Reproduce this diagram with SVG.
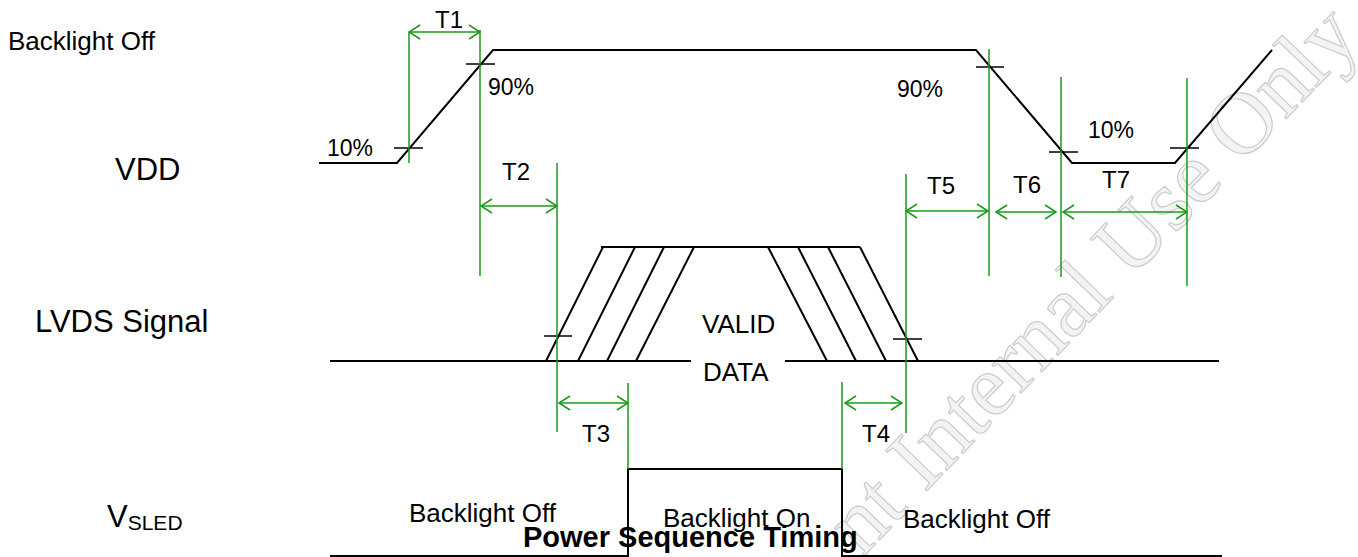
<svg xmlns="http://www.w3.org/2000/svg" width="1358" height="557" viewBox="0 0 1358 557">
<style>
.sig{fill:none;stroke:#000;stroke-width:2}
.tick{fill:none;stroke:#000;stroke-width:1.5}
.dim{fill:none;stroke:#1a9a1a;stroke-width:1.5}
.arr{fill:none;stroke:#1a9a1a;stroke-width:1.5;marker-start:url(#ah);marker-end:url(#ah)}
text{font-family:"Liberation Sans",Arial,sans-serif;fill:#000}
.big{font-size:31px}
.lbl{font-size:26px}
.t{font-size:24px}
.pc{font-size:23px}
.title{font-size:29px;font-weight:bold}
.wm{font-family:"Liberation Serif",serif;font-size:88px;fill:#f3f3f3;stroke:#cccccc;stroke-width:1.2}
</style>
<defs>
<marker id="ah" viewBox="-12 -8 14 16" refX="0" refY="0" markerWidth="14" markerHeight="16" markerUnits="userSpaceOnUse" orient="auto-start-reverse">
<path d="M-11,-7 L0,0 L-11,7" fill="none" stroke="#1a9a1a" stroke-width="1.5"/>
</marker>
</defs>
<g id="watermark">
<text class="wm" transform="translate(862,558) rotate(-46)">nt Internal Use Only</text>
</g>
<g id="labels">
<text class="lbl" x="8" y="50">Backlight Off</text>
<text class="big" x="115" y="180">VDD</text>
<text class="big" x="35" y="332">LVDS Signal</text>
<text class="big" x="107" y="527">V<tspan font-size="21" y="530">SLED</tspan></text>
</g>
<g id="vdd">
<polyline class="sig" points="319,163 397,163 493,50 976,50 1072,163 1175,163 1272,50"/>
<line class="tick" x1="394" y1="148" x2="423" y2="148"/>
<line class="tick" x1="466" y1="64" x2="495" y2="64"/>
<line class="tick" x1="976" y1="67" x2="1004" y2="67"/>
<line class="tick" x1="1049" y1="152" x2="1078" y2="152"/>
<line class="tick" x1="1170" y1="148" x2="1199" y2="148"/>
<text class="pc" x="327" y="156">10%</text>
<text class="pc" x="488" y="95">90%</text>
<text class="pc" x="897" y="97">90%</text>
<text class="pc" x="1088" y="138">10%</text>
</g>
<g id="lvds">
<line class="sig" x1="330" y1="361" x2="691" y2="361"/>
<line class="sig" x1="785" y1="361" x2="1219" y2="361"/>
<line class="sig" x1="601" y1="247" x2="860" y2="247"/>
<line class="sig" x1="546" y1="361" x2="603" y2="247"/>
<line class="sig" x1="578" y1="361" x2="635" y2="247"/>
<line class="sig" x1="607" y1="361" x2="664" y2="247"/>
<line class="sig" x1="636" y1="361" x2="694" y2="247"/>
<line class="sig" x1="768" y1="247" x2="827" y2="361"/>
<line class="sig" x1="798" y1="247" x2="856" y2="361"/>
<line class="sig" x1="828" y1="247" x2="886" y2="361"/>
<line class="sig" x1="860" y1="247" x2="918" y2="361"/>
<line class="tick" x1="544" y1="336" x2="572" y2="336"/>
<line class="tick" x1="893" y1="339" x2="922" y2="339"/>
<text class="lbl" x="702" y="333">VALID</text>
<text class="lbl" x="703" y="381">DATA</text>
</g>
<g id="vsled">
<polyline class="sig" points="330,556 628,556 628,469 842,469 842,556 1222,556"/>
<text class="lbl" x="409" y="522">Backlight Off</text>
<text class="lbl" x="663" y="527">Backlight On</text>
<text class="lbl" x="903" y="528">Backlight Off</text>
</g>
<g id="connectors">
<line class="dim" x1="409" y1="32" x2="409" y2="163"/>
<line class="dim" x1="480" y1="30" x2="480" y2="276"/>
<line class="dim" x1="557" y1="163" x2="557" y2="432"/>
<line class="dim" x1="628" y1="383" x2="628" y2="469"/>
<line class="dim" x1="842" y1="382" x2="842" y2="469"/>
<line class="dim" x1="906" y1="174" x2="906" y2="433"/>
<line class="dim" x1="989" y1="49" x2="989" y2="276"/>
<line class="dim" x1="1061" y1="77" x2="1061" y2="277"/>
<line class="dim" x1="1187" y1="78" x2="1187" y2="286"/>
<line class="arr" x1="409" y1="32" x2="480" y2="32"/>
<line class="arr" x1="481" y1="206" x2="557" y2="206"/>
<line class="arr" x1="559" y1="403" x2="628" y2="403"/>
<line class="arr" x1="845" y1="403" x2="902" y2="403"/>
<line class="arr" x1="906" y1="211" x2="988" y2="211"/>
<line class="arr" x1="996" y1="212" x2="1056" y2="212"/>
<line class="arr" x1="1063" y1="212" x2="1187" y2="212"/>
</g>
<g id="dimlabels">
<text class="t" x="435" y="28">T1</text>
<text class="t" x="502" y="180">T2</text>
<text class="t" x="582" y="442">T3</text>
<text class="t" x="862" y="442">T4</text>
<text class="t" x="927" y="194">T5</text>
<text class="t" x="1013" y="193">T6</text>
<text class="t" x="1102" y="188">T7</text>
</g>
<g id="title">
<text class="title" x="523" y="547">Power Sequence Timing</text>
</g>
</svg>
